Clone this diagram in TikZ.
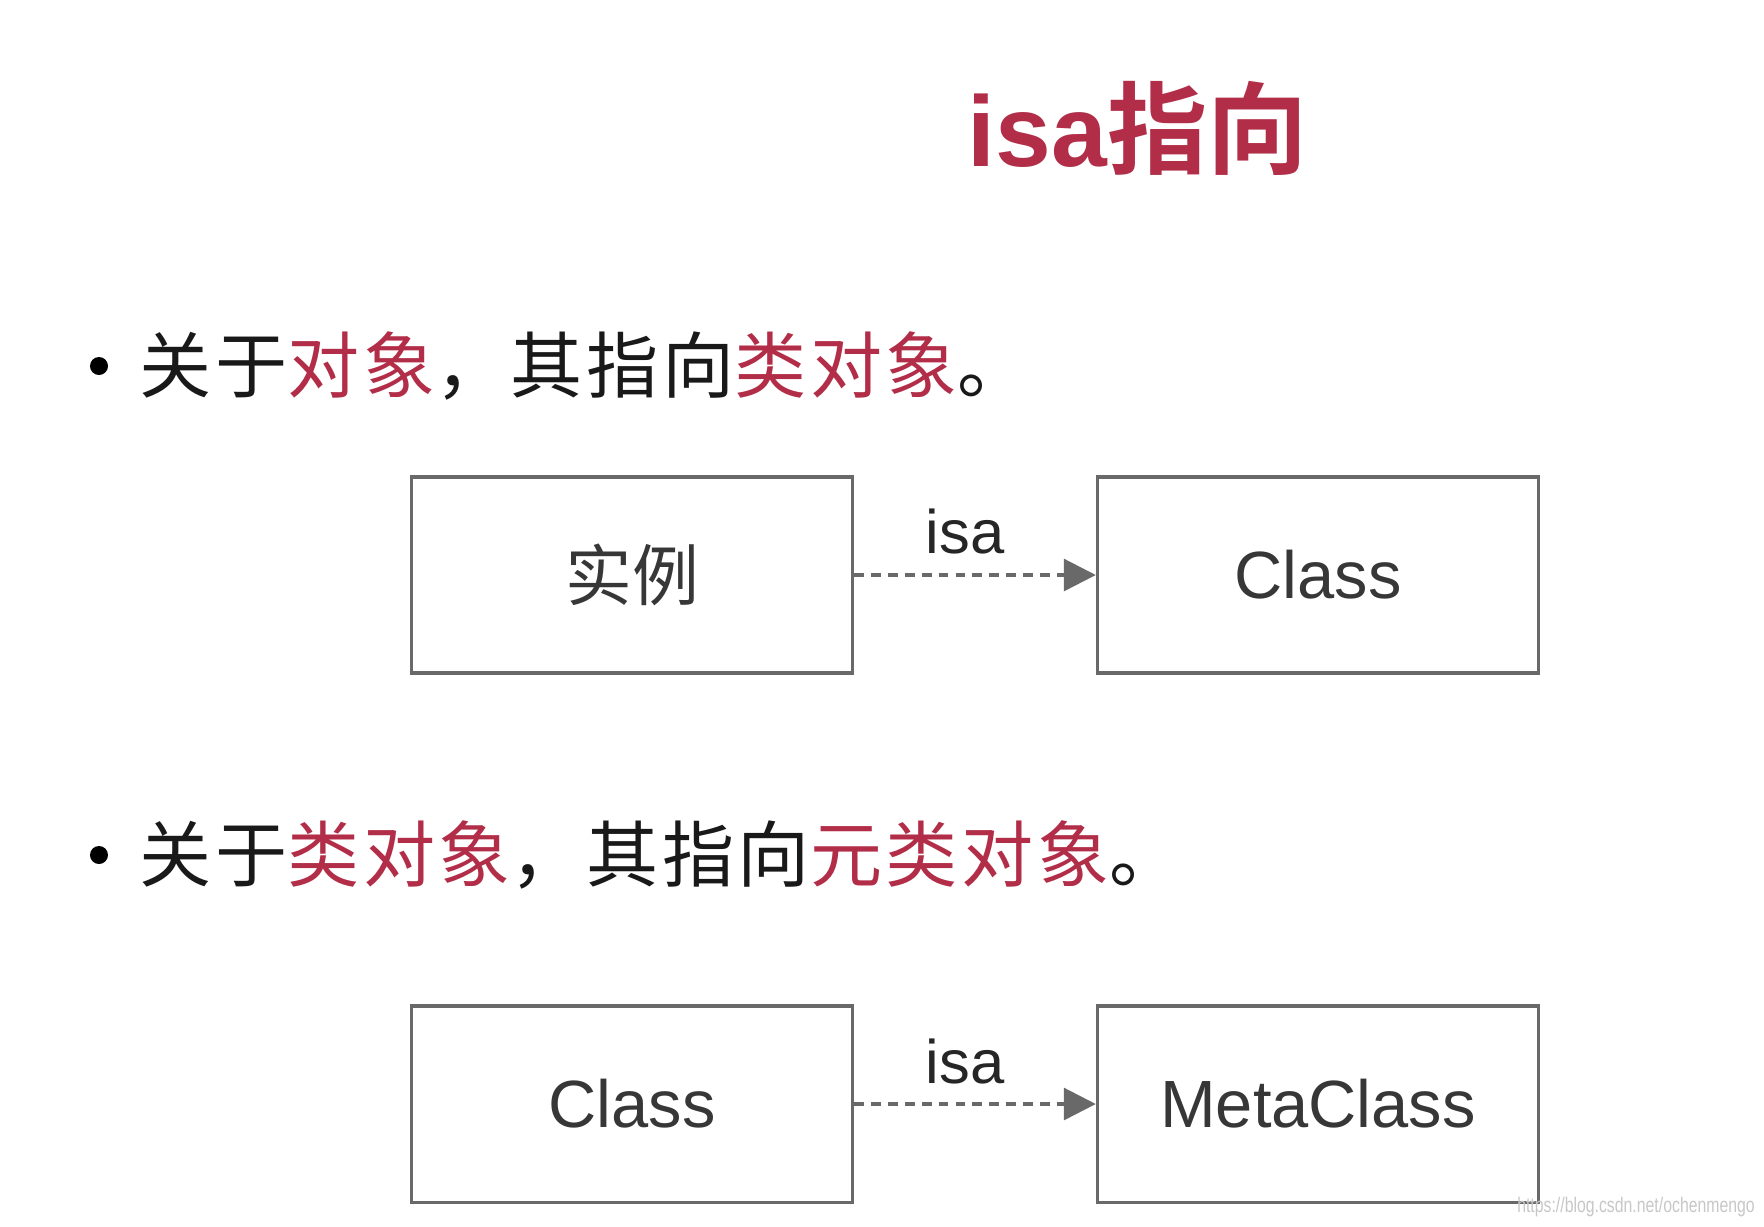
\documentclass[tikz,border=0pt]{standalone}
\usepackage{fontspec}
\setmainfont{Liberation Sans}
\newfontfamily\cjk{Noto Sans CJK SC}
\newfontfamily\cjkwide{Noto Sans CJK SC}[LetterSpace=5]
\newfontfamily\cjkbold{Noto Sans CJK SC Bold}
\usetikzlibrary{arrows.meta}
\definecolor{isared}{RGB}{178,46,72}
\definecolor{boxgray}{RGB}{105,105,105}
\definecolor{txtgray}{RGB}{55,55,55}
\newcommand{\hl}[1]{\textcolor{isared}{#1}}

\begin{document}
\begin{tikzpicture}[x=0.01cm,y=-0.01cm,>={Triangle[length=0.32cm,width=0.32cm]},
  box/.style={draw=boxgray,line width=0.9pt,minimum width=4.41cm,minimum height=1.96cm,
    inner sep=0pt,text=txtgray,font=\fontsize{19}{22}\selectfont},
  isaline/.style={draw=boxgray,line width=0.9pt,dash pattern=on 2.8pt off 2pt,->},
  isalabel/.style={inner sep=0pt,xshift=-0.1cm,yshift=0.43cm,text=black!85,font=\fontsize{17.5}{20}\selectfont},
  dot/.style={circle,fill=black,inner sep=0pt,minimum size=0.18cm},
  line/.style={anchor=west,inner sep=0pt,text=black!90,font=\cjkwide\fontsize{20.5}{24}\selectfont}]
  \useasboundingbox (0,0) rectangle (1764,1226);

  % title
  \node[inner sep=0pt,text=isared,font=\fontsize{28.5}{32}\selectfont] (title) at (1138,128)
    {\textbf{isa}{\cjkbold 指向}};

  % instance -> class
  \node[dot] (dot1) at (99,366) {};
  \node[line] (text1) at (139,366) {关于\hl{对象}，其指向\hl{类对象}。};
  \node[box] (inst) at (632,575) {{\cjk 实例}};
  \node[box] (cls1) at (1318,575) {\raisebox{-0.06cm}{Class}};
  \draw[isaline] (inst) -- node[isalabel] (isa1) {isa} (cls1);

  % class -> metaclass
  \node[dot] (dot2) at (99,855) {};
  \node[line] (text2) at (139,855) {关于\hl{类对象}，其指向\hl{元类对象}。};
  \node[box] (cls2) at (632,1104) {\raisebox{-0.06cm}{Class}};
  \node[box] (meta) at (1318,1104) {\raisebox{-0.06cm}{MetaClass}};
  \draw[isaline] (cls2) -- node[isalabel] (isa2) {isa} (meta);

  \node[inner sep=0pt,xscale=0.75,text=black!22,font=\fontsize{6}{7}\selectfont] (mark) at (1636,1207)
    {https://blog.csdn.net/ochenmengo};
\end{tikzpicture}
\end{document}
